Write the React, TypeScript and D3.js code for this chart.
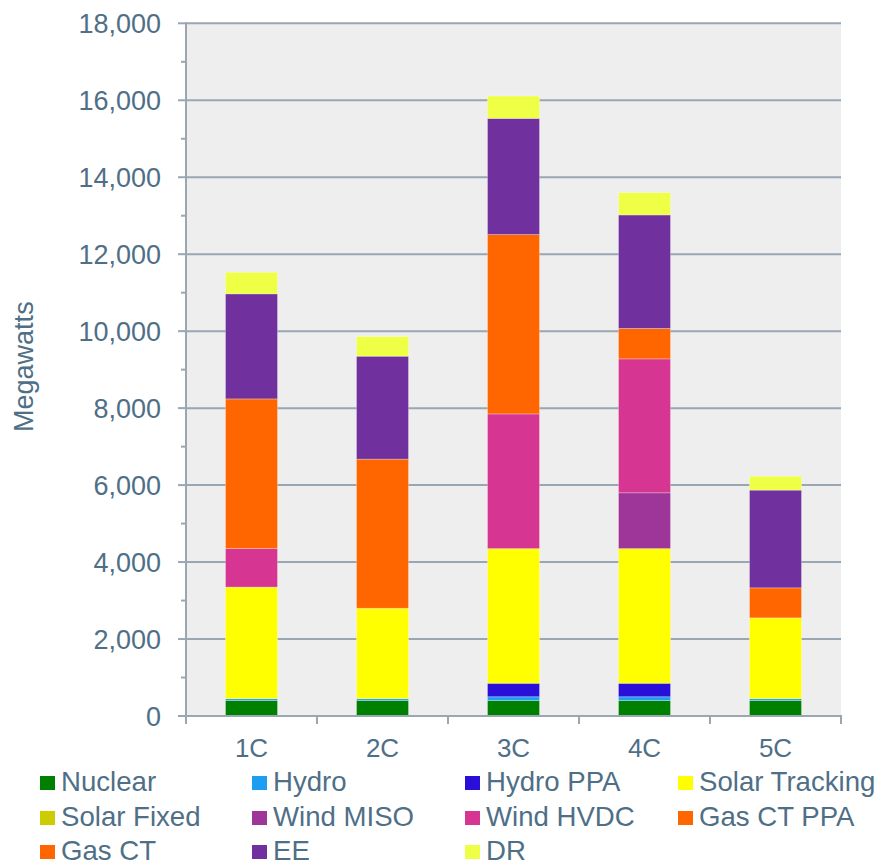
import React from "react";
import * as d3 from "d3";

const categories = ["1C", "2C", "3C", "4C", "5C"];

const seriesNames = [
  "Nuclear",
  "Hydro",
  "Hydro PPA",
  "Solar Tracking",
  "Solar Fixed",
  "Wind MISO",
  "Wind HVDC",
  "Gas CT PPA",
  "Gas CT",
  "EE",
  "DR",
];

const seriesColors = [
  "#008000",
  "#1E9EF0",
  "#2A0FD8",
  "#FFFF00",
  "#CCCC00",
  "#9E3598",
  "#D63591",
  "#FF6600",
  "#FF6600",
  "#70309E",
  "#EFFF45",
];

const nuclear = [400, 400, 400, 400, 400];
const hydro = [50, 50, 100, 100, 50];
const hydroPPA = [0, 0, 350, 350, 0];
const solarTracking = [2900, 2350, 3500, 3500, 2100];
const solarFixed = [0, 0, 0, 0, 0];
const windMISO = [0, 0, 0, 1450, 0];
const windHVDC = [1000, 0, 3500, 3480, 0];
const gasCTPPA = [0, 0, 0, 0, 0];
const gasCT = [3890, 3875, 4660, 790, 780];
const ee = [2730, 2675, 3020, 2950, 2540];
const dr = [560, 510, 580, 580, 360];

const seriesValues = [
  nuclear,
  hydro,
  hydroPPA,
  solarTracking,
  solarFixed,
  windMISO,
  windHVDC,
  gasCTPPA,
  gasCT,
  ee,
  dr,
];

const yTicks = [0, 2000, 4000, 6000, 8000, 10000, 12000, 14000, 16000, 18000];
const yMinorTicks = [1000, 3000, 5000, 7000, 9000, 11000, 13000, 15000, 17000];

const W = 881;
const H = 866;
const plot = { left: 186, right: 841, top: 23.3, bottom: 716 };
const textColor = "#4F6F87";
const axisColor = "#9AA6B2";
const font = "'Liberation Sans', Arial, Helvetica, sans-serif";

export default function App() {
  const y = d3.scaleLinear().domain([0, 18000]).range([plot.bottom, plot.top]);
  const xAxis = d3
    .scaleBand<string>()
    .domain(categories)
    .range([plot.left, plot.right])
    .padding(0);
  const xBar = d3
    .scaleBand<string>()
    .domain(categories)
    .range([plot.left, plot.right])
    .paddingInner(0.603)
    .paddingOuter(0.3015);

  const rows = categories.map((c, i) => {
    const r: Record<string, number | string> = { category: c };
    seriesNames.forEach((s, k) => {
      r[s] = seriesValues[k][i];
    });
    return r;
  });
  const stacked = d3.stack<Record<string, number | string>>().keys(seriesNames)(rows as any);

  const legendCols = [40, 252, 465, 678];
  const legendRows = [791, 826, 860];

  const fmt = d3.format(",");

  return (
    <svg
      width={W}
      height={H}
      style={{ position: "absolute", left: 0, top: 0, background: "#fff" }}
      fontFamily={font}
    >
      <rect
        x={plot.left}
        y={plot.top}
        width={plot.right - plot.left}
        height={plot.bottom - plot.top}
        fill="#EEEEEE"
      />
      {yTicks
        .filter((t) => t > 0)
        .map((t) => (
          <line
            key={"g" + t}
            x1={plot.left}
            x2={plot.right}
            y1={y(t)}
            y2={y(t)}
            stroke={axisColor}
            strokeWidth={2}
          />
        ))}

      {stacked.map((layer, k) => (
        <g key={seriesNames[k]} fill={seriesColors[k]}>
          {layer.map((d, i) =>
            d[1] - d[0] > 0 ? (
              <rect
                key={i}
                x={xBar(categories[i])}
                width={xBar.bandwidth()}
                y={y(d[1])}
                height={y(d[0]) - y(d[1])}
                stroke="rgba(255,255,255,0.35)"
                strokeWidth={0.8}
              />
            ) : null
          )}
        </g>
      ))}

      {/* value axis */}
      <line
        x1={plot.left}
        x2={plot.left}
        y1={plot.top - 1}
        y2={plot.bottom + 1}
        stroke={axisColor}
        strokeWidth={2}
      />
      {yTicks.map((t) => (
        <g key={"t" + t}>
          <line x1={plot.left - 8} x2={plot.left} y1={y(t)} y2={y(t)} stroke={axisColor} strokeWidth={2} />
          <text
            x={161}
            y={y(t)}
            dy="0.36em"
            textAnchor="end"
            fontSize={27}
            fill={textColor}
          >
            {fmt(t)}
          </text>
        </g>
      ))}
      {yMinorTicks.map((t) => (
        <line key={"m" + t} x1={plot.left - 5} x2={plot.left} y1={y(t)} y2={y(t)} stroke={axisColor} strokeWidth={2} />
      ))}
      <text
        transform={`translate(33, ${(plot.top + plot.bottom) / 2 - 3}) rotate(-90)`}
        textAnchor="middle"
        fontSize={27}
        fill={textColor}
      >
        Megawatts
      </text>

      {/* category axis */}
      <line
        x1={plot.left - 1}
        x2={plot.right + 1}
        y1={plot.bottom}
        y2={plot.bottom}
        stroke={axisColor}
        strokeWidth={2}
      />
      {[...categories.map((c) => xAxis(c) as number), plot.right].map((x, i) => (
        <line key={"xt" + i} x1={x} x2={x} y1={plot.bottom} y2={plot.bottom + 8} stroke={axisColor} strokeWidth={2} />
      ))}
      {categories.map((c) => (
        <text
          key={"xl" + c}
          x={(xAxis(c) as number) + xAxis.bandwidth() / 2}
          y={757}
          textAnchor="middle"
          fontSize={26}
          fill={textColor}
        >
          {c}
        </text>
      ))}

      {/* legend */}
      {seriesNames.map((s, k) => {
        const cx = legendCols[k % 4];
        const cy = legendRows[Math.floor(k / 4)];
        return (
          <g key={"lg" + s}>
            <rect x={cx} y={cy - 15} width={15} height={14} fill={seriesColors[k]} />
            <text x={cx + 21} y={cy} fontSize={27.6} fill={textColor}>
              {s}
            </text>
          </g>
        );
      })}
    </svg>
  );
}
